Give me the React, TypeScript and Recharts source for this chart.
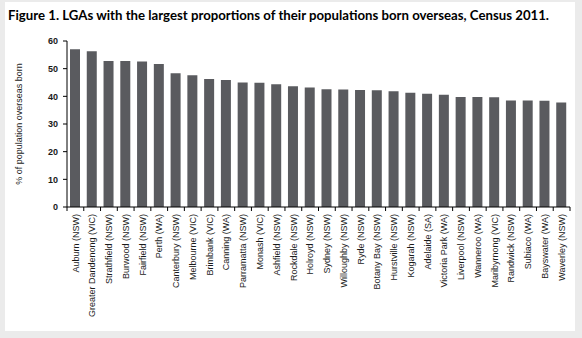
import { BarChart, Bar, XAxis, YAxis } from "recharts"

const TITLE = "Figure 1. LGAs with the largest proportions of their populations born overseas, Census 2011."
const Y_LABEL = "% of population overseas born"

const LGAS = [
  "Auburn (NSW)", "Greater Dandenong (VIC)", "Strathfield (NSW)", "Burwood (NSW)", "Fairfield (NSW)",
  "Perth (WA)", "Canterbury (NSW)", "Melbourne (VIC)", "Brimbank (VIC)", "Canning (WA)",
  "Parramatta (NSW)", "Monash (VIC)", "Ashfield (NSW)", "Rockdale (NSW)", "Holroyd (NSW)",
  "Sydney (NSW)", "Willoughby (NSW)", "Ryde (NSW)", "Botany Bay (NSW)", "Hurstville (NSW)",
  "Kogarah (NSW)", "Adelaide (SA)", "Victoria Park (WA)", "Liverpool (NSW)", "Wanneroo (WA)",
  "Maribyrnong (VIC)", "Randwick (NSW)", "Subiaco (WA)", "Bayswater (WA)", "Waverley (NSW)",
]

const BORN_OVERSEAS = [
  57.0, 56.3, 52.8, 52.8, 52.6,
  51.7, 48.3, 47.6, 46.3, 45.9,
  45.0, 44.9, 44.4, 43.6, 43.2,
  42.6, 42.5, 42.3, 42.2, 41.8,
  41.3, 40.9, 40.6, 39.8, 39.8,
  39.7, 38.5, 38.5, 38.4, 37.8,
]

const Y_TICKS = [0, 10, 20, 30, 40, 50, 60]

const BAR_COLOR = "#5a5b5f" // dark slate grey
const FONT = "'Liberation Sans', Arial, sans-serif"

const data = LGAS.map((name, i) => ({ name, value: BORN_OVERSEAS[i] }))

// rotated category label plus a tick mark on the boundary to its left
function CategoryTick(props: any) {
  const { x, y, payload, index } = props
  const half = payload.offset ?? 8
  const isLast = index === LGAS.length - 1
  return (
    <g>
      <line x1={x - half} x2={x - half} y1={y - 6} y2={y - 2} stroke="#000" />
      {isLast && <line x1={x + half} x2={x + half} y1={y - 6} y2={y - 2} stroke="#000" />}
      <text
        transform={`translate(${x},${y + 1}) rotate(-90)`}
        textAnchor="end"
        dy="0.35em"
        fontSize={9}
        fontFamily={FONT}
        fill="#1a1a1a"
      >
        {payload.value}
      </text>
    </g>
  )
}

export default function App() {
  return (
    <div style={{ position: "absolute", left: 0, top: 0, width: 582, height: 338, background: "#ebebeb", overflow: "hidden" }}>
      <div style={{ position: "absolute", left: 5, top: 2, width: 570, height: 329, background: "#fff" }} />
      <svg style={{ position: "absolute", left: 0, top: 0 }} width={582} height={30}>
        <text
          x={8}
          y={20}
          textLength={541}
          lengthAdjust="spacingAndGlyphs"
          fontFamily="Lato, 'Open Sans', sans-serif"
          fontWeight="bold"
          fontSize={13}
          fill="#000"
        >
          {TITLE}
        </text>
      </svg>
      <div style={{ position: "absolute", left: 0, top: 0 }}>
        <BarChart
          width={582}
          height={338}
          data={data}
          margin={{ top: 41, right: 12, bottom: 0, left: 0 }}
          barSize={10}
        >
          <XAxis
            dataKey="name"
            interval={0}
            height={131}
            tickLine={false}
            axisLine={{ stroke: "#000" }}
            tick={<CategoryTick />}
            tickMargin={0}
            tickSize={6}
          />
          <YAxis
            width={67}
            domain={[0, 60]}
            ticks={Y_TICKS}
            interval={0}
            axisLine={{ stroke: "#000" }}
            tickLine={{ stroke: "#000" }}
            tickSize={4}
            tickMargin={5}
            tick={{ fontSize: 9, fontFamily: FONT, fontWeight: "bold", fill: "#1a1a1a" }}
            label={{
              content: ({ viewBox }: any) => (
                <text
                  transform={`translate(19,${viewBox.y + viewBox.height / 2}) rotate(-90)`}
                  textAnchor="middle"
                  dy="0.35em"
                  fontSize={9}
                  fontFamily={FONT}
                  fill="#1a1a1a"
                >
                  {Y_LABEL}
                </text>
              ),
            }}
          />
          <Bar dataKey="value" fill={BAR_COLOR} isAnimationActive={false} />
        </BarChart>
      </div>
    </div>
  )
}
